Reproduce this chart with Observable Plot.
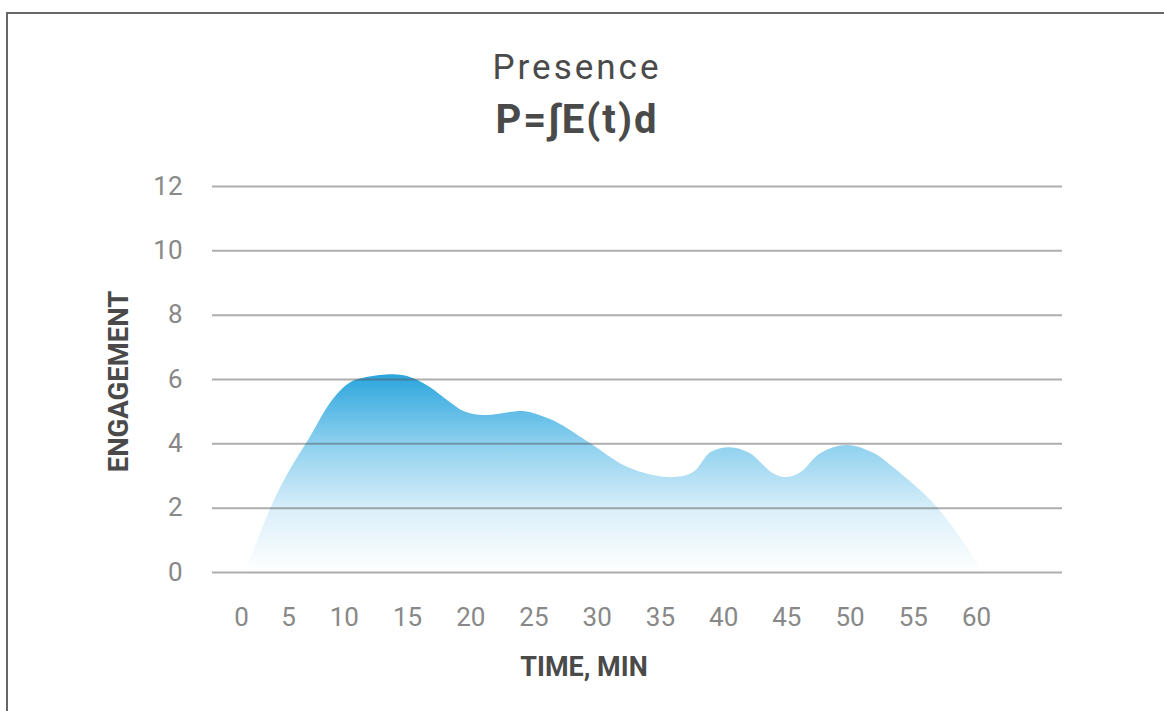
<!DOCTYPE html>
<html>
<head>
<meta charset="utf-8">
<script src="https://cdn.jsdelivr.net/npm/d3@7"></script>
<script src="https://cdn.jsdelivr.net/npm/@observablehq/plot@0.6"></script>
<style>
  html, body { margin: 0; padding: 0; width: 1164px; height: 711px; overflow: hidden; background: #fff; font-family: Roboto, "Noto Sans", sans-serif; }
  #frame { position: absolute; left: 6px; top: 12px; width: 1300px; height: 800px; border-left: 2px solid #666; border-top: 2px solid #666; }
  .title { position: absolute; left: 0; width: 1154px; text-align: center; color: #4a4a4a; line-height: 1; white-space: nowrap; }
  #t1 { top: 50px; font-size: 35px; font-weight: 400; letter-spacing: 3px; }
  #t2 { top: 100px; font-size: 40px; font-weight: 700; letter-spacing: 2px; }
  #chart { position: absolute; left: 0; top: 150px; }
</style>
</head>
<body>
<div id="frame"></div>
<div class="title" id="t1">Presence</div>
<div class="title" id="t2">P=∫E(t)d</div>
<div id="chart"></div>
<script>
// Data (time in minutes on the chart's linear axis, engagement)
const times  = [2.2, 4.2, 5.6, 7.3, 9.07, 10.5, 11.8, 13.9, 15.0, 16.6, 18.4, 19.5, 21.1, 24.3, 26.0, 27.1, 29.5, 32.4, 35.6, 37.6, 39.0, 40.5, 42.1, 43.9, 45.0, 46.1, 47.7, 49.8, 51.9, 53.4, 56.9, 60.6];
const values = [0, 2.0, 3.1, 4.2, 5.35, 5.9, 6.06, 6.15, 6.09, 5.8, 5.28, 5.0, 4.88, 5.0, 4.8, 4.6, 4.0, 3.27, 2.95, 3.1, 3.73, 3.88, 3.7, 3.08, 2.95, 3.1, 3.7, 3.95, 3.7, 3.27, 2.02, 0];
// Tick label texts and where they sit on the axis (the first two labels are crowded to the right in the reference)
const xTickLabels = ["0", "5", "10", "15", "20", "25", "30", "35", "40", "45", "50", "55", "60"];
const xTickPositions = [1.87, 5.59, 10, 15, 20, 25, 30, 35, 40, 45, 50, 55, 60];
const yTicks = [0, 2, 4, 6, 8, 10, 12];
const xLabel = "TIME, MIN";
const yLabel = "ENGAGEMENT";

const data = times.map((t, i) => ({t, v: values[i]}));

const plot = Plot.plot({
  width: 1164,
  height: 561,
  marginLeft: 212,
  marginRight: 102,
  marginTop: 36,
  marginBottom: 139,
  style: {fontFamily: "Roboto, sans-serif", background: "transparent", overflow: "visible"},
  x: {domain: [0, 60], range: [217.4, 976]},
  y: {domain: [0, 12]},
  marks: [
    Plot.areaY(data, {x: "t", y: "v", curve: "catmull-rom", fill: "url(#engGrad)"}),
    Plot.ruleY(yTicks, {stroke: "#555", strokeOpacity: 0.48, strokeWidth: 2}),
    Plot.axisY(yTicks, {tickSize: 0, tickPadding: 30, fontSize: 26, fill: "#888", label: null}),
    Plot.axisX(xTickPositions, {tickSize: 0, tickPadding: 35, fontSize: 26, fill: "#888", label: null,
      tickFormat: (d) => xTickLabels[xTickPositions.indexOf(d)]}),
    Plot.text([xLabel], {frameAnchor: "bottom", dx: -53.5, dy: 95, fontSize: 27, fontWeight: 700, fill: "#4a4a4a", lineAnchor: "middle"}),
    Plot.text([yLabel], {frameAnchor: "left", dx: -93, dy: 2, rotate: -90, textAnchor: "middle", fontSize: 27.5, fontWeight: 700, fill: "#4a4a4a", lineAnchor: "middle"})
  ]
});

const svg = d3.select(plot);
const defs = svg.insert("defs", ":first-child");
const g = defs.append("linearGradient").attr("id", "engGrad").attr("x1", 0).attr("y1", 0).attr("x2", 0).attr("y2", 1);
[[0, "#2ba5dc"], [0.35, "#8dd0ef"], [0.7, "#dcf0fa"], [1, "#ffffff"]].forEach(([o, c]) =>
  g.append("stop").attr("offset", o).attr("stop-color", c));

document.getElementById("chart").appendChild(plot);
</script>
</body>
</html>
